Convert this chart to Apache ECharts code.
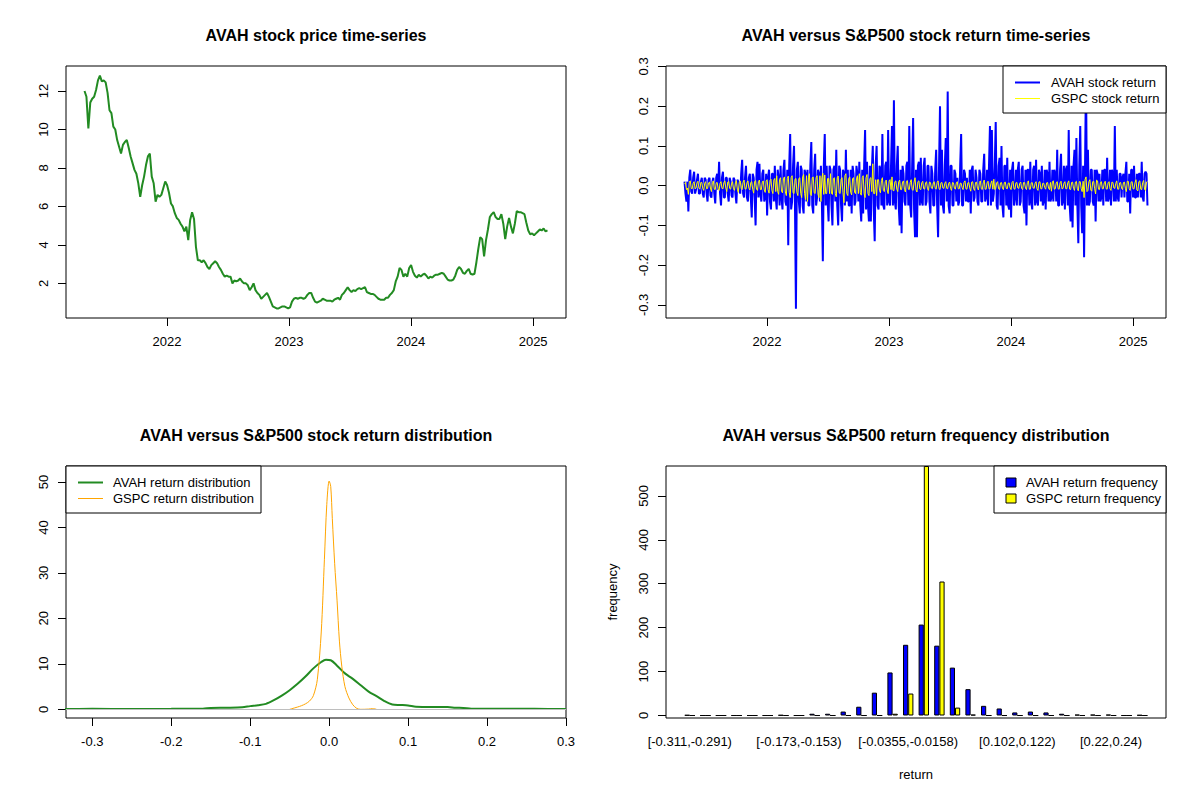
<!DOCTYPE html>
<html>
<head>
<meta charset="utf-8">
<script src="https://cdn.jsdelivr.net/npm/echarts@6/dist/echarts.min.js"></script>
<style>
  html, body { margin: 0; padding: 0; background: #fff; }
  #main { width: 1200px; height: 800px; }
</style>
</head>
<body>
<div id="main"></div>
<script>
// data range of the daily series
const startDate = "2021-04-29";
const endDate = "2025-02-13";
const yearTicks = [2022, 2023, 2024, 2025];

// AVAH close (evenly spaced through the period)
const avahPrice = [
  12.0, 11.7, 10.05, 11.4, 11.6, 11.7, 12.05, 12.55, 12.8, 12.5, 12.55, 12.45,
  11.9, 11.0, 10.85, 10.15, 10.0, 9.45, 9.1, 8.75, 9.2, 9.35, 9.45, 9.05,
  8.6, 8.25, 7.9, 7.7, 7.2, 6.5, 7.1, 7.55, 8.15, 8.6, 8.75, 7.55,
  7.2, 6.25, 6.6, 6.5, 6.6, 6.95, 7.3, 7.1, 6.7, 6.15, 6.0, 5.65,
  5.4, 5.3, 5.1, 4.95, 4.7, 4.95, 4.25, 5.3, 5.7, 5.35, 3.9, 3.2,
  3.2, 3.1, 3.2, 3.05, 2.85, 2.75, 2.95, 3.05, 3.15, 3.05, 2.85, 2.7,
  2.5, 2.35, 2.4, 2.35, 2.35, 2.0, 2.15, 2.1, 2.15, 2.25, 2.1, 2.0,
  2.0, 1.9, 1.65, 1.8, 2.0, 1.65, 1.5, 1.4, 1.2, 1.3, 1.4, 1.5,
  1.3, 1.05, 0.8, 0.75, 0.7, 0.7, 0.75, 0.8, 0.8, 0.75, 0.7, 0.75,
  1.05, 1.2, 1.25, 1.2, 1.25, 1.25, 1.2, 1.25, 1.4, 1.5, 1.5, 1.25,
  1.05, 1.0, 1.05, 1.1, 1.2, 1.15, 1.1, 1.1, 1.1, 1.05, 1.15, 1.2,
  1.25, 1.15, 1.4, 1.5, 1.65, 1.8, 1.65, 1.55, 1.65, 1.6, 1.7, 1.75,
  1.7, 1.75, 1.8, 1.55, 1.5, 1.45, 1.45, 1.4, 1.3, 1.2, 1.15, 1.15,
  1.15, 1.25, 1.25, 1.4, 1.5, 1.65, 2.1, 2.35, 2.8, 2.7, 2.35, 2.5,
  2.35, 2.8, 2.95, 2.6, 2.4, 2.3, 2.45, 2.35, 2.45, 2.5, 2.4, 2.25,
  2.35, 2.3, 2.4, 2.45, 2.45, 2.5, 2.55, 2.5, 2.35, 2.2, 2.15, 2.15,
  2.2, 2.4, 2.7, 2.85, 2.75, 2.55, 2.5, 2.65, 2.75, 2.5, 2.45, 2.5,
  3.1, 3.8, 4.4, 4.3, 3.4, 4.25, 4.8, 5.45, 5.6, 5.7, 5.45, 5.35,
  5.35, 5.6, 5.1, 4.3, 4.95, 5.4, 4.95, 4.6, 5.1, 5.75, 5.7, 5.7,
  5.65, 5.6, 5.15, 4.75, 4.55, 4.6, 4.5, 4.6, 4.7, 4.8, 4.75, 4.85,
  4.7, 4.75
];

// returns: the "A" arrays sit on the price dates, the "B" arrays fall between them
const avahReturnA = [
  0.01, -0.04, -0.065, 0.04, -0.02, 0.035, -0.01, 0.03, -0.02, 0.02, -0.03, 0.015,
  -0.04, 0.02, -0.03, 0.02, -0.045, 0.03, 0.06, -0.05, 0.035, -0.03, 0.02, -0.04,
  0.01, -0.03, 0.015, -0.045, 0.01, -0.02, 0.065, -0.03, 0.05, -0.04, 0.03, -0.08,
  0.02, -0.1, 0.06, 0.055, -0.04, 0.04, -0.03, -0.075, 0.04, -0.06, 0.03, 0.05,
  -0.06, 0.02, 0.05, -0.06, 0.065, -0.05, -0.15, 0.13, -0.04, 0.1, -0.31, 0.06,
  -0.07, 0.04, -0.07, 0.03, 0.04, -0.05, 0.11, -0.07, 0.08, -0.03, 0.03, 0.05,
  -0.19, 0.13, 0.05, -0.09, 0.04, -0.1, 0.05, 0.09, -0.1, 0.04, -0.09, 0.03,
  0.09, 0.04, -0.05, -0.07, 0.03, -0.04, 0.03, 0.06, -0.09, -0.07, 0.14, 0.06,
  -0.09, -0.09, 0.1, -0.14, 0.1, -0.06, 0.04, 0.13, -0.06, 0.06, 0.14, -0.05,
  0.15, 0.215, -0.06, 0.1, -0.1, -0.12, 0.03, -0.05, 0.06, 0.15, -0.08, 0.17,
  -0.13, -0.13, 0.06, 0.07, -0.05, 0.07, -0.04, 0.05, -0.07, 0.03, -0.05, 0.09,
  -0.13, 0.2, 0.09, -0.07, 0.12, 0.237, -0.07, 0.05, -0.05, 0.03, 0.02, -0.04,
  0.13, -0.05, 0.03, 0.02, -0.04, -0.07, 0.05, -0.03, 0.02, -0.05, 0.03, -0.04,
  0.08, -0.03, -0.05, 0.15, 0.14, -0.02, 0.16, -0.06, 0.07, 0.1, -0.08, 0.05,
  0.07, -0.06, -0.08, 0.06, -0.03, -0.05, 0.06, -0.04, 0.05, -0.07, -0.1, 0.04,
  0.06, -0.06, 0.05, 0.065, -0.05, 0.03, 0.05, -0.04, -0.06, 0.03, 0.06, -0.03,
  -0.04, 0.03, 0.09, -0.05, 0.08, -0.04, -0.06, 0.05, 0.14, -0.09, -0.105, 0.09,
  0.12, -0.145, 0.15, -0.12, -0.18, 0.279, 0.09, -0.04, 0.04, -0.05, -0.09, 0.03,
  0.03, -0.03, -0.05, 0.04, 0.07, -0.03, -0.05, 0.03, 0.15, 0.04, -0.04, 0.03,
  0.02, -0.03, 0.06, -0.04, -0.07, 0.04, 0.05, -0.03, -0.03, 0.03, 0.06, -0.04,
  0.035, -0.05
];
const avahReturnB = [
  -0.02, 0.01, 0.02, -0.015, 0.02, -0.02, 0.015, -0.02, 0.01, -0.02, 0.02, -0.02,
  0.015, -0.025, 0.01, -0.02, 0.02, -0.01, -0.02, 0.02, -0.03, 0.02, -0.02, 0.02,
  -0.025, 0.02, -0.02, 0.015, -0.01, 0.03, -0.02, 0.02, -0.03, 0.02, -0.03, 0.03,
  -0.03, 0.04, -0.03, -0.02, 0.03, -0.04, 0.03, 0.02, -0.04, 0.03, -0.04, -0.03,
  0.04, -0.05, -0.03, 0.04, -0.04, 0.04, 0.05, -0.06, 0.05, -0.05, 0.04, -0.04,
  0.05, -0.05, 0.04, -0.04, -0.05, 0.05, -0.05, 0.04, -0.05, 0.04, -0.04, -0.04,
  0.05, -0.05, -0.04, 0.05, -0.05, 0.04, -0.04, -0.05, 0.05, -0.05, 0.04, -0.05,
  -0.04, -0.05, 0.04, 0.05, -0.05, 0.05, -0.04, -0.05, 0.04, 0.05, -0.06, -0.05,
  0.05, 0.04, -0.06, 0.05, -0.05, 0.05, -0.05, -0.05, 0.05, -0.05, -0.04, 0.05,
  -0.05, -0.04, 0.05, -0.05, 0.04, 0.05, -0.04, 0.05, -0.05, -0.05, 0.05, -0.06,
  0.04, 0.05, -0.05, -0.04, 0.05, -0.05, 0.05, -0.04, 0.05, -0.05, 0.04, -0.05,
  0.05, -0.05, -0.05, 0.05, -0.04, -0.05, 0.05, -0.05, 0.04, -0.04, -0.05, 0.05,
  -0.05, 0.04, -0.04, -0.04, 0.04, 0.04, -0.04, 0.04, -0.04, 0.04, -0.04, 0.04,
  -0.04, 0.04, 0.05, -0.05, -0.04, 0.05, -0.05, 0.05, -0.05, -0.05, 0.05, -0.05,
  -0.05, 0.04, 0.04, -0.05, 0.04, 0.04, -0.05, 0.04, -0.05, 0.04, 0.04, -0.05,
  -0.04, 0.04, -0.05, -0.04, 0.04, -0.04, -0.05, 0.04, 0.04, -0.04, -0.04, 0.04,
  0.04, -0.04, -0.05, 0.04, -0.05, 0.05, 0.04, -0.05, -0.05, 0.05, 0.05, -0.05,
  -0.05, 0.05, -0.05, 0.05, 0.05, -0.05, -0.05, 0.04, -0.04, 0.04, 0.04, -0.04,
  -0.04, 0.04, 0.04, -0.04, -0.04, 0.04, 0.04, -0.04, -0.04, -0.03, 0.03, -0.03,
  0.03, 0.03, -0.04, 0.03, 0.04, -0.03, -0.03, 0.03, 0.03, -0.03, -0.03, 0.03,
  0.03
];

const gspcReturnA = [
  0.005, -0.01, -0.022, 0.012, -0.008, 0.01, -0.006, 0.011, -0.009, 0.008, -0.012, 0.01,
  -0.007, 0.009, -0.015, 0.012, -0.01, 0.008, -0.012, 0.01, -0.008, 0.012, -0.015, 0.011,
  -0.009, 0.01, -0.012, 0.013, -0.017, 0.012, -0.01, 0.014, -0.009, 0.012, -0.011, 0.01,
  -0.019, 0.013, -0.012, 0.014, -0.01, 0.012, -0.017, 0.015, -0.019, 0.016, -0.02, 0.018,
  0.025, -0.022, 0.02, -0.018, 0.022, -0.025, 0.024, -0.03, 0.025, -0.02, 0.018, -0.025,
  0.02, -0.03, 0.028, -0.035, -0.04, 0.03, -0.025, 0.022, -0.02, 0.025, -0.03, -0.04,
  0.031, 0.027, -0.02, 0.018, 0.03, -0.022, 0.02, -0.028, 0.024, -0.02, 0.02, -0.043,
  0.03, -0.025, 0.022, -0.023, 0.02, -0.02, 0.025, 0.03, -0.024, 0.025, -0.03, 0.028,
  -0.025, 0.02, 0.055, -0.02, -0.025, 0.015, -0.018, 0.02, -0.015, 0.014, -0.02, 0.015,
  0.022, -0.013, 0.012, -0.015, 0.014, -0.01, 0.012, -0.016, 0.013, -0.01, 0.015, -0.012,
  0.02, -0.016, 0.012, -0.01, 0.011, -0.009, 0.01, -0.012, 0.008, -0.008, 0.01, -0.009,
  0.012, -0.01, 0.008, -0.007, 0.01, -0.008, 0.009, -0.012, 0.007, -0.009, 0.01, -0.008,
  0.006, -0.01, 0.012, -0.009, 0.008, -0.014, 0.01, -0.012, 0.009, -0.011, 0.012, -0.01,
  0.014, -0.009, 0.011, -0.008, 0.012, 0.016, -0.008, 0.01, -0.01, 0.008, -0.01, 0.009,
  -0.008, 0.007, -0.01, 0.011, -0.009, 0.008, -0.007, 0.009, -0.01, 0.008, -0.01, 0.012,
  -0.009, 0.008, -0.007, 0.01, -0.012, 0.01, -0.008, 0.006, -0.009, 0.008, -0.01, -0.014,
  0.012, -0.008, 0.01, -0.009, 0.011, -0.007, 0.01, -0.008, 0.012, -0.01, 0.009, -0.012,
  0.011, -0.013, 0.01, -0.015, -0.03, 0.022, -0.012, 0.015, -0.014, 0.011, -0.021, 0.012,
  -0.01, 0.01, -0.008, 0.011, -0.009, 0.01, -0.012, 0.008, -0.007, 0.012, -0.009, 0.008,
  -0.01, 0.009, -0.015, 0.011, -0.012, 0.01, -0.008, 0.015, -0.013, 0.012, -0.01, 0.013,
  -0.012, 0.01
];
const gspcReturnB = [
  0.008, -0.006, 0.01, -0.007, 0.006, -0.008, 0.007, -0.006, 0.008, -0.007, 0.006, -0.008,
  0.007, -0.006, 0.008, -0.009, 0.007, -0.008, 0.006, -0.007, 0.008, -0.006, 0.009, -0.007,
  0.006, -0.008, 0.007, -0.009, 0.008, -0.007, 0.009, -0.008, 0.007, -0.006, 0.008, -0.009,
  0.01, -0.009, 0.011, -0.01, 0.009, -0.011, 0.012, -0.01, 0.013, -0.012, 0.014, -0.015,
  -0.015, 0.016, -0.015, 0.017, -0.016, 0.018, -0.017, 0.02, -0.018, 0.016, -0.017, 0.018,
  -0.02, 0.022, -0.02, 0.025, 0.02, -0.022, 0.02, -0.018, 0.02, -0.022, 0.025, 0.02,
  -0.022, -0.02, 0.018, -0.02, -0.02, 0.018, -0.02, 0.02, -0.018, 0.016, -0.018, 0.025,
  -0.02, 0.018, -0.017, 0.018, -0.016, 0.017, -0.02, -0.018, 0.02, -0.02, 0.02, -0.02,
  0.018, -0.015, -0.02, 0.015, 0.015, -0.012, 0.013, -0.012, 0.01, -0.011, 0.012, -0.01,
  -0.012, 0.01, -0.009, 0.01, -0.01, 0.009, -0.01, 0.011, -0.009, 0.008, -0.01, 0.009,
  -0.011, 0.01, -0.008, 0.007, -0.008, 0.007, -0.008, 0.009, -0.006, 0.007, -0.007, 0.008,
  -0.008, 0.007, -0.006, 0.006, -0.007, 0.006, -0.007, 0.008, -0.006, 0.007, -0.008, 0.006,
  -0.005, 0.008, -0.008, 0.007, -0.006, 0.009, -0.008, 0.008, -0.007, 0.008, -0.008, 0.007,
  -0.009, 0.007, -0.008, 0.006, -0.009, -0.01, 0.007, -0.008, 0.007, -0.006, 0.008, -0.007,
  0.006, -0.006, 0.008, -0.008, 0.007, -0.006, 0.006, -0.007, 0.008, -0.006, 0.008, -0.009,
  0.007, -0.006, 0.006, -0.008, 0.009, -0.008, 0.006, -0.005, 0.007, -0.006, 0.008, 0.01,
  -0.009, 0.007, -0.008, 0.007, -0.008, 0.006, -0.008, 0.007, -0.009, 0.008, -0.007, 0.009,
  -0.008, 0.01, -0.008, 0.011, 0.015, -0.015, 0.01, -0.011, 0.01, -0.008, 0.014, -0.009,
  0.008, -0.008, 0.007, -0.008, 0.007, -0.008, 0.009, -0.006, 0.006, -0.009, 0.007, -0.006,
  0.008, -0.007, 0.011, -0.008, 0.009, -0.008, 0.007, -0.011, 0.01, -0.009, 0.008, -0.01,
  0.009
];

// kernel density of the returns
const avahDensityX = [-0.34, -0.3, -0.25, -0.2, -0.16, -0.15, -0.13, -0.11, -0.1, -0.09, -0.08, -0.07,
  -0.06, -0.05, -0.04, -0.03, -0.02, -0.01, -0.004, 0.002, 0.01, 0.02, 0.03, 0.04, 0.05, 0.06,
  0.07, 0.08, 0.09, 0.1, 0.11, 0.13, 0.15, 0.16, 0.17, 0.18, 0.22, 0.26, 0.3];
const avahDensity = [0.08, 0.1, 0.08, 0.1, 0.15, 0.3, 0.35, 0.45, 0.7, 0.9, 1.2, 2.0,
  3.0, 4.2, 5.6, 7.2, 9.0, 10.4, 10.9, 10.8, 9.6, 7.9, 6.7, 5.3, 3.9, 2.9,
  1.8, 1.05, 0.95, 0.85, 0.55, 0.5, 0.5, 0.35, 0.3, 0.15, 0.1, 0.1, 0.08];
const gspcDensityX = [-0.05, -0.047, -0.04, -0.035, -0.03, -0.025, -0.02, -0.015, -0.01, -0.006, -0.003,
  0.0, 0.002, 0.004, 0.007, 0.01, 0.013, 0.016, 0.02, 0.025, 0.03, 0.035, 0.04, 0.05, 0.055, 0.06];
const gspcDensity = [0, 0.15, 0.5, 0.8, 1.2, 1.8, 3.0, 6.5, 17, 33, 45,
  50.2, 49, 42, 32, 24, 15, 9.5, 5, 2.5, 1.0, 0.2, 0, 0.05, 0.15, 0];

// frequency table
const returnBins = [
  "[-0.311,-0.291)", "[-0.291,-0.271)", "[-0.271,-0.252)", "[-0.252,-0.232)", "[-0.232,-0.212)",
  "[-0.212,-0.193)", "[-0.193,-0.173)", "[-0.173,-0.153)", "[-0.153,-0.134)", "[-0.134,-0.114)",
  "[-0.114,-0.0945)", "[-0.0945,-0.0748)", "[-0.0748,-0.0552)", "[-0.0552,-0.0355)", "[-0.0355,-0.0158)",
  "[-0.0158,0.00382)", "[0.00382,0.0235)", "[0.0235,0.0431)", "[0.0431,0.0628)", "[0.0628,0.0825)",
  "[0.0825,0.102)", "[0.102,0.122)", "[0.122,0.141)", "[0.141,0.161)", "[0.161,0.181)",
  "[0.181,0.2)", "[0.2,0.22)", "[0.22,0.24)", "[0.24,0.259)", "[0.259,0.279]"
];
const avahFreq = [1, 0, 0, 0, 0, 0, 1, 0, 4, 4, 9, 20, 52, 98, 161, 207, 159, 109, 60, 22, 16, 7, 9, 7, 4, 2, 2, 2, 0, 1];
const gspcFreq = [0, 0, 0, 0, 0, 0, 0, 0, 0, 0, 0, 0, 0, 4, 50, 568, 305, 18, 2, 0, 0, 0, 0, 0, 0, 0, 0, 0, 0, 0];
const shownBins = [0, 7, 14, 21, 27];

let chart = echarts.init(document.getElementById("main"), null, { renderer: "svg" });

const FONT = '"Liberation Sans", Arial, sans-serif';
const t0 = Date.parse(startDate);
const t1 = Date.parse(endDate);
const span = t1 - t0;
const tMin = t0 - 0.04 * span;
const tMax = t1 + 0.04 * span;
const dates = avahPrice.map((_, i) => t0 + (i * span) / (avahPrice.length - 1));
const yearStamps = yearTicks.map((y) => Date.UTC(y, 0, 1));

// A/B returns woven together: A on each price date, B half a step later
function weave(a, b) {
  let res = [];
  const step = span / (a.length - 1);
  a.forEach((v, i) => {
    res.push([dates[i], v]);
    if (i < b.length) res.push([dates[i] + step / 2, b[i]]);
  });
  return res;
}

// R-like axis helpers
function tickAxis(grid, min, max, ticks, fmt) {
  return {
    gridIndex: grid,
    type: "value",
    min: min,
    max: max,
    axisLine: { show: false, onZero: false },
    splitLine: { show: false },
    axisTick: { show: true, customValues: ticks, length: 8, lineStyle: { color: "#000", width: 1 } },
    axisLabel: { customValues: ticks, formatter: fmt, color: "#000", fontSize: 13, fontFamily: FONT, margin: 17 },
  };
}
function yAxisR(grid, min, max, ticks, fmt) {
  let a = tickAxis(grid, min, max, ticks, fmt);
  a.axisLabel.rotate = 90;
  a.axisLabel.margin = 16;
  return a;
}
const oneDec = (v) => v.toFixed(1);

const boxGrid = (l, t) => ({ left: l, top: t, width: 500, height: 252, show: true, borderColor: "#000", borderWidth: 1, backgroundColor: "transparent" });

// legend drawn like R's legend(): frame, key, text
function legendBox(x, y, w, items) {
  let els = [{ type: "rect", z: 100, shape: { x: x, y: y, width: w, height: 47 }, style: { fill: "#fff", stroke: "#000", lineWidth: 1 } }];
  items.forEach((it, i) => {
    const cy = y + 16.5 + i * 16;
    if (it.box) {
      els.push({ type: "rect", z: 101, shape: { x: x + 12, y: cy - 4.5, width: 10, height: 9 }, style: { fill: it.color, stroke: "#000", lineWidth: 1 } });
    } else {
      els.push({ type: "line", z: 101, shape: { x1: x + it.lx, y1: cy, x2: x + it.lx + 25, y2: cy }, style: { stroke: it.color, lineWidth: it.width } });
    }
    els.push({ type: "text", z: 101, x: x + it.tx, y: cy, style: { text: it.name, fill: "#000", font: "13px " + FONT, align: "left", verticalAlign: "middle" } });
  });
  return els;
}
function titleText(text, x, y) {
  return { type: "text", z: 100, x: x, y: y, style: { text: text, fill: "#000", font: "bold 16px " + FONT, align: "center", verticalAlign: "middle" } };
}

let option = {
  animation: false,
  backgroundColor: "#fff",
  textStyle: { fontFamily: FONT },
  grid: [
    boxGrid(66, 66),   // price
    boxGrid(666, 66),  // returns
    boxGrid(66, 466),  // density
    boxGrid(666, 466), // histogram frame
    { left: 682, top: 466, width: 468, height: 252, show: false }, // histogram bars
  ],
  xAxis: [
    tickAxis(0, tMin, tMax, yearStamps, (v) => new Date(v).getUTCFullYear()),
    tickAxis(1, tMin, tMax, yearStamps, (v) => new Date(v).getUTCFullYear()),
    tickAxis(2, -0.3333, 0.3, [-0.3, -0.2, -0.1, 0, 0.1, 0.2, 0.3], oneDec),
    { gridIndex: 3, type: "value", min: 0, max: 1, show: false },
    {
      gridIndex: 4, type: "category", data: returnBins,
      axisLine: { show: false }, axisTick: { show: false }, splitLine: { show: false },
      axisLabel: {
        interval: (index) => shownBins.indexOf(index) >= 0,
        color: "#000", fontSize: 13, fontFamily: FONT, margin: 17,
      },
      name: "return", nameLocation: "middle", nameGap: 50,
      nameTextStyle: { color: "#000", fontSize: 13, fontFamily: FONT },
    },
  ],
  yAxis: [
    yAxisR(0, 0.2, 13.3, [2, 4, 6, 8, 10, 12], (v) => String(v)),
    yAxisR(1, -0.333, 0.301, [-0.3, -0.2, -0.1, 0, 0.1, 0.2, 0.3], oneDec),
    yAxisR(2, -1.91, 53.5, [0, 10, 20, 30, 40, 50], (v) => String(v)),
    Object.assign(yAxisR(3, -5.68, 568, [0, 100, 200, 300, 400, 500], (v) => String(v)), {
      name: "frequency", nameLocation: "middle", nameGap: 47,
      nameTextStyle: { color: "#000", fontSize: 13, fontFamily: FONT },
    }),
    { gridIndex: 4, type: "value", min: -5.68, max: 568, show: false },
  ],
  series: [
    {
      name: "AVAH price", type: "line", xAxisIndex: 0, yAxisIndex: 0,
      data: dates.map((t, i) => [t, avahPrice[i]]),
      symbol: "none", lineStyle: { color: "#228B22", width: 2 },
    },
    {
      name: "AVAH stock return", type: "line", xAxisIndex: 1, yAxisIndex: 1,
      data: weave(avahReturnA, avahReturnB),
      symbol: "none", lineStyle: { color: "#0000FF", width: 2 },
    },
    {
      name: "GSPC stock return", type: "line", xAxisIndex: 1, yAxisIndex: 1,
      data: weave(gspcReturnA, gspcReturnB),
      symbol: "none", lineStyle: { color: "#FFFF00", width: 1 },
    },
    {
      name: "AVAH return distribution", type: "line", xAxisIndex: 2, yAxisIndex: 2,
      data: avahDensityX.map((x, i) => [x, avahDensity[i]]),
      symbol: "none", smooth: 0.3, lineStyle: { color: "#228B22", width: 2 },
      markLine: {
        silent: true, symbol: "none", label: { show: false },
        lineStyle: { color: "#BEBEBE", width: 1, type: "solid" },
        data: [{ yAxis: 0 }],
      },
    },
    {
      name: "GSPC return distribution", type: "line", xAxisIndex: 2, yAxisIndex: 2,
      data: gspcDensityX.map((x, i) => [x, gspcDensity[i]]),
      symbol: "none", smooth: 0.3, lineStyle: { color: "#FFA500", width: 1 },
    },
    {
      name: "AVAH return frequency", type: "bar", xAxisIndex: 4, yAxisIndex: 4,
      data: avahFreq, barWidth: 5.2, barGap: "0%",
      itemStyle: { color: "#0000FF", borderColor: "#000", borderWidth: 1 },
    },
    {
      name: "GSPC return frequency", type: "bar", xAxisIndex: 4, yAxisIndex: 4,
      data: gspcFreq, barWidth: 5.2, barGap: "0%",
      itemStyle: { color: "#FFFF00", borderColor: "#000", borderWidth: 1 },
    },
  ],
  graphic: [
    titleText("AVAH stock price time-series", 316, 35),
    titleText("AVAH versus S&P500 stock return time-series", 916, 35),
    titleText("AVAH versus S&P500 stock return distribution", 316, 435),
    titleText("AVAH versus S&P500 return frequency distribution", 916, 435),
    ...legendBox(1003, 66, 163, [
      { name: "AVAH stock return", color: "#0000FF", width: 2, lx: 12, tx: 48 },
      { name: "GSPC stock return", color: "#FFFF00", width: 1, lx: 12, tx: 48 },
    ]),
    ...legendBox(66, 466, 195, [
      { name: "AVAH return distribution", color: "#228B22", width: 2, lx: 12, tx: 47 },
      { name: "GSPC return distribution", color: "#FFA500", width: 1, lx: 12, tx: 47 },
    ]),
    ...legendBox(994, 466, 172, [
      { name: "AVAH return frequency", color: "#0000FF", box: true, tx: 32 },
      { name: "GSPC return frequency", color: "#FFFF00", box: true, tx: 32 },
    ]),
  ],
};

chart.setOption(option);

window.addEventListener("resize", function () {
  chart.resize();
});
</script>
</body>
</html>
